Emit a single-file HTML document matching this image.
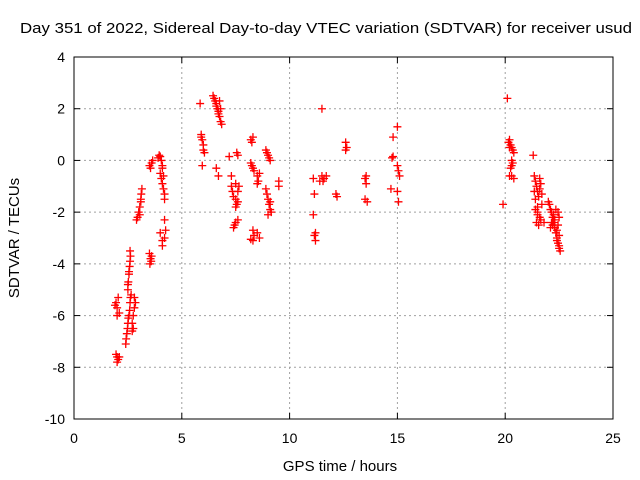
<!DOCTYPE html>
<html><head><meta charset="utf-8"><style>
body{margin:0;background:#fff;}
svg{display:block;font-family:"Liberation Sans",sans-serif;}
</style></head><body>
<svg id="chart" width="640" height="480" viewBox="0 0 640 480" xmlns="http://www.w3.org/2000/svg">
<rect width="640" height="480" fill="#fff"/>
<text x="20" y="33" font-size="15" textLength="612" lengthAdjust="spacingAndGlyphs">Day 351 of 2022, Sidereal Day-to-day VTEC variation (SDTVAR) for receiver usud</text>
<g id="grid"></g>
<g id="axes"></g>
<g id="points"></g>
<text x="340" y="471" text-anchor="middle" font-size="15">GPS time / hours</text>
<text transform="translate(19,238) rotate(-90)" text-anchor="middle" font-size="15">SDTVAR / TECUs</text>
</svg>
<script>
const xTicks=[0,5,10,15,20,25];
const yTicks=[-10,-8,-6,-4,-2,0,2,4];
const hours=[1.9,1.95,2.0,2.0,2.05,2.1,1.95,2.0,2.05,2.0,2.1,
2.4,2.42,2.45,2.48,2.5,2.52,2.55,2.58,2.6,2.62,2.65,2.5,2.52,2.55,2.58,2.6,2.62,2.5,2.55,2.6,
2.7,2.75,2.8,2.85,2.8,2.75,2.7,
2.9,2.95,3.0,3.05,3.1,3.12,3.15,3.1,3.05,
3.5,3.55,3.6,3.52,3.58,3.5,3.55,3.6,3.65,
3.9,3.95,4.0,4.05,4.1,4.0,4.05,4.1,4.15,4.2,4.1,4.15,4.2,4.0,4.1,4.2,4.25,4.1,4.2,
5.85,5.9,5.95,6.0,6.05,5.9,6.0,5.95,
6.45,6.5,6.55,6.6,6.65,6.7,6.75,6.8,6.85,6.6,6.7,6.75,6.8,6.7,6.6,
7.2,7.3,7.35,7.4,7.5,7.55,7.6,7.65,7.5,7.55,7.6,7.4,7.45,7.5,7.6,7.3,7.5,7.6,
8.2,8.25,8.3,8.2,8.25,8.3,8.35,8.5,8.55,8.6,8.3,8.35,8.5,8.6,8.3,8.2,8.5,
8.9,8.95,9.0,9.05,9.1,8.9,8.95,9.0,9.05,9.1,9.15,9.0,9.1,9.5,9.5,
11.1,11.15,11.1,11.2,11.15,11.2,11.5,11.4,11.5,11.6,11.7,11.55,12.2,12.15,12.6,12.65,12.6,
13.5,13.55,13.5,13.6,13.55,14.7,14.75,14.8,14.8,15.0,15.0,15.05,15.1,15.0,15.05,
19.9,20.1,20.15,20.2,20.25,20.3,20.35,20.4,20.2,20.3,20.35,20.25,20.3,20.4,20.2,20.3,
21.3,21.35,21.4,21.45,21.5,21.55,21.6,21.65,21.7,21.4,21.5,21.6,21.45,21.55,21.65,21.4,21.5,21.6,21.5,21.7,21.35,21.8,
22.0,22.05,22.1,22.15,22.2,22.25,22.3,22.35,22.4,22.45,22.5,22.55,22.1,22.2,22.3,22.4,22.5,22.15,22.25,22.35,22.45,22.5,22.3,22.4,22.45,22.5];
const values=[-5.6,-5.5,-5.7,-6.0,-5.3,-5.9,-7.5,-7.6,-7.7,-7.8,-7.6,
-7.1,-6.9,-6.7,-6.5,-6.3,-6.1,-6.0,-5.8,-5.5,-5.3,-5.2,-5.0,-4.7,-4.4,-4.1,-3.9,-3.7,-4.8,-4.3,-3.5,
-6.3,-6.0,-5.7,-5.5,-5.3,-6.5,-6.6,
-2.3,-2.2,-2.0,-1.8,-1.5,-1.3,-1.1,-1.6,-2.1,
-3.6,-3.8,-3.7,-4.0,-3.9,-0.2,-0.3,-0.1,0.0,
0.1,0.2,0.15,0.0,-0.2,-0.5,-0.7,-0.9,-1.1,-1.3,-0.3,-0.6,-1.5,-2.8,-3.1,-3.0,-2.7,-3.3,-2.3,
2.2,1.0,0.8,0.6,0.3,0.9,0.4,-0.2,
2.5,2.4,2.3,2.1,2.0,1.9,1.7,1.5,1.4,2.2,1.8,2.3,2.0,-0.6,-0.3,
0.15,-1.0,-1.2,-1.4,-1.5,-1.7,-1.2,-1.0,-1.8,0.3,0.2,-2.6,-2.5,-2.4,-2.3,-0.6,-0.9,-1.6,
0.8,0.7,0.9,-0.1,-0.2,-0.3,-0.4,-0.9,-0.8,-0.5,-2.7,-2.9,-2.8,-3.0,-3.1,-3.05,-0.6,
0.4,0.3,0.2,0.1,0.0,-1.1,-1.3,-1.5,-1.7,-1.9,-2.0,-2.1,-1.6,-0.8,-1.0,
-0.7,-1.3,-2.1,-2.8,-2.9,-3.1,2.0,-0.8,-0.6,-0.7,-0.6,-0.8,-1.4,-1.3,0.7,0.5,0.4,
-0.7,-0.9,-1.5,-1.6,-0.6,-1.1,0.1,0.9,0.15,-1.2,-0.2,-0.4,-0.6,1.3,-1.6,-1.7,
2.4,0.7,0.8,0.6,0.5,0.4,0.3,0.5,-0.2,-0.1,-0.3,-0.6,-0.7,-0.6,0.0,0.2,
-0.6,-0.8,-1.0,-1.2,-1.4,-1.1,-0.9,-1.7,-1.9,-2.0,-2.2,-2.4,-2.5,-2.3,-1.5,-1.8,-0.7,-2.1,-1.3,-1.2,-2.4,-1.6,
-1.7,-1.9,-2.0,-2.2,-2.4,-2.6,-2.8,-3.0,-3.2,-3.4,-3.5,-2.6,-2.5,-2.3,-2.7,-2.9,-2.4,-2.1,-1.9,-2.5,-2.2,-2.6,-3.1,-2.0,-3.3,-2.9];
const X0=74,X1=613,Y0=419,Y1=57;
function sx(v){return X0+(v-0)/(25-0)*(X1-X0);}
function sy(v){return Y0-(v+10)/(14)*(Y0-Y1);}
const NS="http://www.w3.org/2000/svg";
function mk(t,a,p){const e=document.createElementNS(NS,t);for(const k in a)e.setAttribute(k,a[k]);p.appendChild(e);return e;}
const grid=document.getElementById('grid'),axes=document.getElementById('axes'),pts=document.getElementById('points');
xTicks.forEach(t=>{const x=sx(t);
if(t>0&&t<25){const g=mk('line',{x1:x,x2:x,y1:Y1,y2:Y0,stroke:'#a0a0a0','stroke-dasharray':'2,3'},grid);

}
mk('line',{x1:x,x2:x,y1:Y0,y2:Y0-6,stroke:'#000'},axes);mk('line',{x1:x,x2:x,y1:Y1,y2:Y1+6,stroke:'#000'},axes);
const l=mk('text',{x:x,y:Y0+24,'text-anchor':'middle','font-size':'14'},axes);l.textContent=t;

});
yTicks.forEach(t=>{const y=sy(t);
if(t>-10&&t<4){const g=mk('line',{x1:X0,x2:X1,y1:y,y2:y,stroke:'#a0a0a0','stroke-dasharray':'2,3'},grid);

}
mk('line',{x1:X0,x2:X0+6,y1:y,y2:y,stroke:'#000'},axes);mk('line',{x1:X1,x2:X1-6,y1:y,y2:y,stroke:'#000'},axes);
const l=mk('text',{x:X0-9,y:y+5,'text-anchor':'end','font-size':'14'},axes);l.textContent=t;

});
mk('rect',{x:X0,y:Y1,width:X1-X0,height:Y0-Y1,fill:'none',stroke:'#000'},axes);
hours.forEach((h,i)=>{const x=sx(h),y=sy(values[i]);
const p=mk('path',{d:`M${x-4},${y}h8M${x},${y-4}v8`,stroke:'#ff0000','stroke-width':'1.3',fill:'none'},pts);

});
</script>
</body></html>
